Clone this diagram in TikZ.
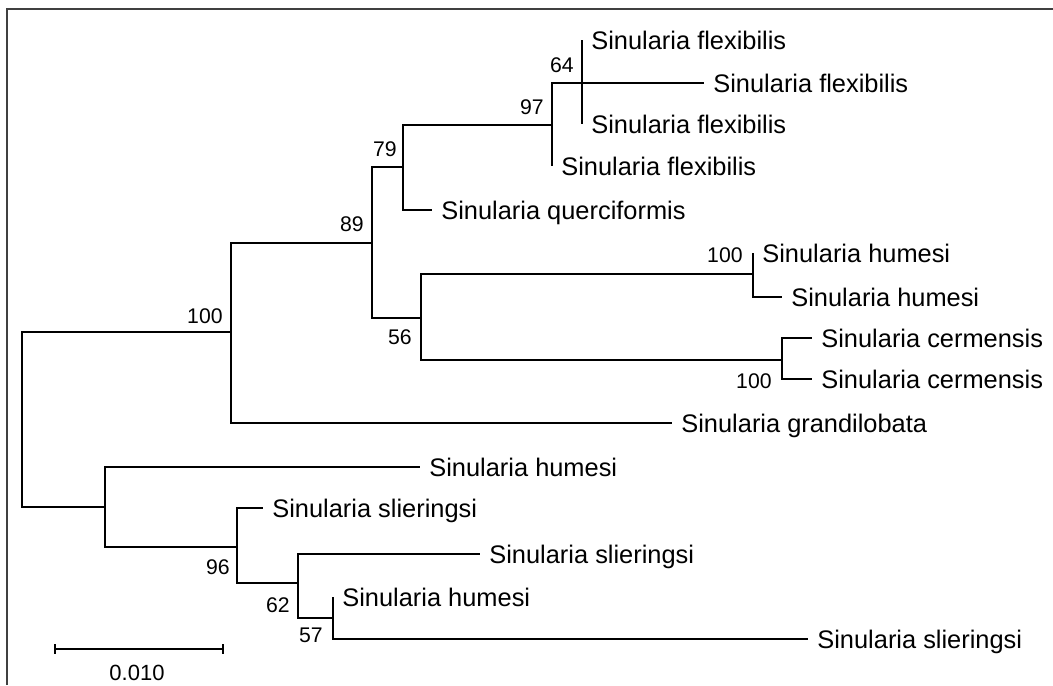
\documentclass[tikz,border=0pt]{standalone}
\usepackage{fontspec}
\setmainfont{Liberation Sans}
\usetikzlibrary{positioning}

\tikzset{
  branch/.style={draw=black, line width=1.2pt},
  taxon/.style={anchor=base west, inner sep=0pt, xshift=4.5pt, yshift=-4.5pt,
    font=\fontsize{12.7}{15}\selectfont},
  boot/.style={inner sep=0pt, font=\fontsize{10.6}{12}\selectfont},
  frameline/.style={draw=black!75, line width=0.75pt}
}

\begin{document}
\begin{tikzpicture}[x=0.5pt, y=-0.5pt]
\useasboundingbox (0,0) rectangle (1053,685);
\draw[frameline] (7,685) -- (7,9) -- (1053,9);

% inner nodes
\coordinate (root) at (22,420);
\coordinate (n100) at (231,332);
\coordinate (n89) at (372,243);
\coordinate (n79) at (403,167);
\coordinate (n97) at (552,125);
\coordinate (n64) at (582,83);
\coordinate (n56) at (421,318);
\coordinate (nhum) at (753,274);
\coordinate (ncer) at (782,360);
\coordinate (nlow) at (105,507);
\coordinate (n96) at (237,547);
\coordinate (n62) at (298,583);
\coordinate (n57) at (333,618);

% tips
\coordinate (f1) at (582,40);
\coordinate (f2) at (704,83);
\coordinate (f3) at (582,124);
\coordinate (f4) at (552,166);
\coordinate (q1) at (432,210);
\coordinate (h1) at (753,253);
\coordinate (h2) at (782,297);
\coordinate (c1) at (812,338);
\coordinate (c2) at (812,379);
\coordinate (g1) at (672,423);
\coordinate (h3) at (420,467);
\coordinate (s1) at (263,508);
\coordinate (s2) at (480,554);
\coordinate (h4) at (333,597);
\coordinate (s3) at (808,639);

% branches
\draw[branch] (root) |- (n100);
\draw[branch] (root) |- (nlow);
\draw[branch] (n100) |- (n89);
\draw[branch] (n100) |- (g1);
\draw[branch] (n89) |- (n79);
\draw[branch] (n89) |- (n56);
\draw[branch] (n79) |- (n97);
\draw[branch] (n79) |- (q1);
\draw[branch] (n97) |- (n64);
\draw[branch] (n97) |- (f4);
\draw[branch] (n64) |- (f1);
\draw[branch] (n64) |- (f2);
\draw[branch] (n64) |- (f3);
\draw[branch] (n56) |- (nhum);
\draw[branch] (n56) |- (ncer);
\draw[branch] (nhum) |- (h1);
\draw[branch] (nhum) |- (h2);
\draw[branch] (ncer) |- (c1);
\draw[branch] (ncer) |- (c2);
\draw[branch] (nlow) |- (h3);
\draw[branch] (nlow) |- (n96);
\draw[branch] (n96) |- (s1);
\draw[branch] (n96) |- (n62);
\draw[branch] (n62) |- (s2);
\draw[branch] (n62) |- (n57);
\draw[branch] (n57) |- (h4);
\draw[branch] (n57) |- (s3);

% taxon names
\node[taxon] (lf1) at (f1) {Sinularia flexibilis};
\node[taxon] (lf2) at (f2) {Sinularia flexibilis};
\node[taxon] (lf3) at (f3) {Sinularia flexibilis};
\node[taxon] (lf4) at (f4) {Sinularia flexibilis};
\node[taxon] (lq1) at (q1) {Sinularia querciformis};
\node[taxon] (lh1) at (h1) {Sinularia humesi};
\node[taxon] (lh2) at (h2) {Sinularia humesi};
\node[taxon] (lc1) at (c1) {Sinularia cermensis};
\node[taxon] (lc2) at (c2) {Sinularia cermensis};
\node[taxon] (lg1) at (g1) {Sinularia grandilobata};
\node[taxon] (lh3) at (h3) {Sinularia humesi};
\node[taxon] (ls1) at (s1) {Sinularia slieringsi};
\node[taxon] (ls2) at (s2) {Sinularia slieringsi};
\node[taxon] (lh4) at (h4) {Sinularia humesi};
\node[taxon] (ls3) at (s3) {Sinularia slieringsi};

% bootstrap values
\node[boot, above left=5pt and 4pt of n64] (b64) {64};
\node[boot, above left=5pt and 4pt of n97] (b97) {97};
\node[boot, above left=5pt and 3pt of n79] (b79) {79};
\node[boot, above left=5.5pt and 4pt of n89] (b89) {89};
\node[boot, above left=4pt and 4pt of n100] (b100) {100};
\node[boot, above left=5.5pt and 5pt of nhum] (bhum) {100};
\node[boot, below left=5.5pt and 4.5pt of n56] (b56) {56};
\node[boot, below left=6.5pt and 5pt of ncer] (bcer) {100};
\node[boot, below left=6pt and 3.5pt of n96] (b96) {96};
\node[boot, below left=7pt and 4pt of n62] (b62) {62};
\node[boot, below left=5pt and 5pt of n57] (b57) {57};

% scale bar
\coordinate (sbl) at (55,649);
\coordinate (sbr) at (223,649);
\draw[branch] (sbl) -- (sbr);
\draw[branch] ([yshift=2.5pt]sbl) -- ([yshift=-2.5pt]sbl);
\draw[branch] ([yshift=2.5pt]sbr) -- ([yshift=-2.5pt]sbr);
\node[boot, font=\fontsize{11}{12}\selectfont] (sblab) at (137,673) {0.010};
\end{tikzpicture}
\end{document}
